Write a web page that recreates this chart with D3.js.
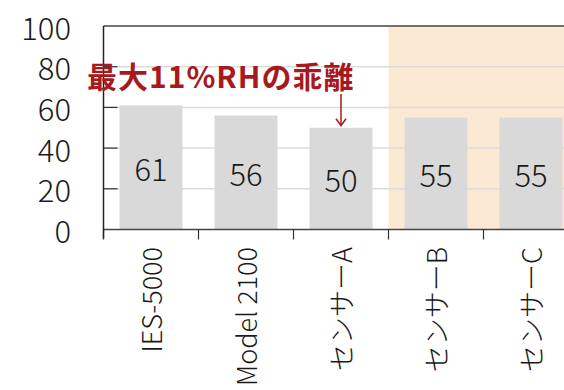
<!DOCTYPE html>
<html><head><meta charset="utf-8">
<script src="https://cdn.jsdelivr.net/npm/d3@7"></script>
<style>
html,body{margin:0;padding:0;background:#fff;}
svg{display:block;}
text{font-family:"Noto Sans CJK JP","Noto Sans",sans-serif;}
</style></head>
<body>
<svg id="chart" width="564" height="390"></svg>
<script>
const categories = ["IES-5000","Model 2100","センサーA","センサーB","センサーC"];
const values = [61,56,50,55,55];
const valueLabels = ["61","56","50","55","55"];
const yTicks = [0,20,40,60,80,100];
const highlighted = ["センサーB","センサーC"];
const annotationText = "最大11%RHの乖離";
const annotationTarget = "センサーA";

const svg = d3.select("#chart");
const plotLeft = 103.5, plotTop = 26, plotBottom = 229.5, bandStep = 95;
const y = d3.scaleLinear().domain([0,100]).range([plotBottom, plotTop]);
const p = 63/95;
const x = d3.scaleBand().domain(categories)
  .range([plotLeft, plotLeft + bandStep*categories.length])
  .paddingInner(1-p).paddingOuter((1-p)/2);
const pad = (x.step()-x.bandwidth())/2;
const bandStart = c => x(c) - pad;

// highlight
const hStart = bandStart(highlighted[0]);
svg.append("rect").attr("x", hStart).attr("y", y(100))
  .attr("width", x.range()[1]-hStart).attr("height", y(0)-y(100))
  .attr("fill", "#fce9d3");

// gridlines
svg.append("g").selectAll("line").data(yTicks.filter(t=>t>0 && t<100)).join("line")
  .attr("x1", plotLeft).attr("x2", 600)
  .attr("y1", d=>y(d)).attr("y2", d=>y(d))
  .attr("stroke", "#dcdcdc").attr("stroke-width", 1.5);

// bars
svg.append("g").selectAll("rect").data(categories).join("rect")
  .attr("x", c=>x(c)).attr("width", x.bandwidth())
  .attr("y", (c,i)=>y(values[i])).attr("height", (c,i)=>y(0)-y(values[i]))
  .attr("fill", "#d9d9d9");

// value labels
svg.append("g").selectAll("text").data(categories).join("text")
  .attr("x", c=>x(c)+x.bandwidth()/2)
  .attr("y", (c,i)=>(y(values[i])+y(0))/2)
  .attr("text-anchor","middle").attr("dominant-baseline","central")
  .attr("font-size", 31).attr("font-weight", 300).attr("fill","#1a1a1a")
  .text((c,i)=>valueLabels[i]);

// y ticks inward
svg.append("g").selectAll("line").data(yTicks.filter(t=>t>0 && t<100)).join("line")
  .attr("x1", plotLeft).attr("x2", plotLeft+14)
  .attr("y1", d=>y(d)).attr("y2", d=>y(d))
  .attr("stroke", "#333").attr("stroke-width", 1.2);

// top border
svg.append("line").attr("x1", plotLeft).attr("x2", 600).attr("y1", y(100)).attr("y2", y(100))
  .attr("stroke", "#444").attr("stroke-width", 1.5);
// bottom axis
svg.append("line").attr("x1", plotLeft).attr("x2", 600).attr("y1", y(0)).attr("y2", y(0))
  .attr("stroke", "#444").attr("stroke-width", 1.5);
// x ticks at band boundaries
svg.append("g").selectAll("line").data(categories).join("line")
  .attr("x1", c=>bandStart(c)).attr("x2", c=>bandStart(c))
  .attr("y1", y(0)).attr("y2", y(0)+10)
  .attr("stroke", "#333").attr("stroke-width", 1.2);
// left axis
svg.append("line").attr("x1", plotLeft).attr("x2", plotLeft).attr("y1", y(100)).attr("y2", y(0)+9)
  .attr("stroke", "#222").attr("stroke-width", 1.5);

// y tick labels
svg.append("g").selectAll("text").data(yTicks).join("text")
  .attr("x", 71).attr("y", d=>y(d))
  .attr("text-anchor","end").attr("dominant-baseline","central")
  .attr("font-size", 31).attr("font-weight", 300).attr("fill","#1a1a1a")
  .text(d=>d);

// x labels
svg.append("g").selectAll("text").data(categories).join("text")
  .attr("transform", c=>`translate(${x(c)+x.bandwidth()/2-1},247) rotate(-90)`)
  .attr("text-anchor","end").attr("dominant-baseline","central")
  .attr("font-size", 27).attr("font-weight", 300).attr("fill","#1a1a1a")
  .text(c=>c);

// annotation
svg.append("text").attr("x", 87).attr("y", 88)
  .attr("font-size", 30).attr("font-weight","bold").attr("letter-spacing", 1)
  .attr("fill","#a8191e")
  .text(annotationText);
const ax = x(annotationTarget)+x.bandwidth()/2;
const ay = y(values[categories.indexOf(annotationTarget)]);
svg.append("line").attr("x1", ax).attr("x2", ax).attr("y1", 94).attr("y2", ay-3)
  .attr("stroke","#a8191e").attr("stroke-width",1.5);
svg.append("path")
  .attr("d", `M${ax-5},${ay-9} L${ax},${ay-2} L${ax+5},${ay-9}`)
  .attr("fill","none").attr("stroke","#a8191e").attr("stroke-width",1.5);
</script>
</body></html>
